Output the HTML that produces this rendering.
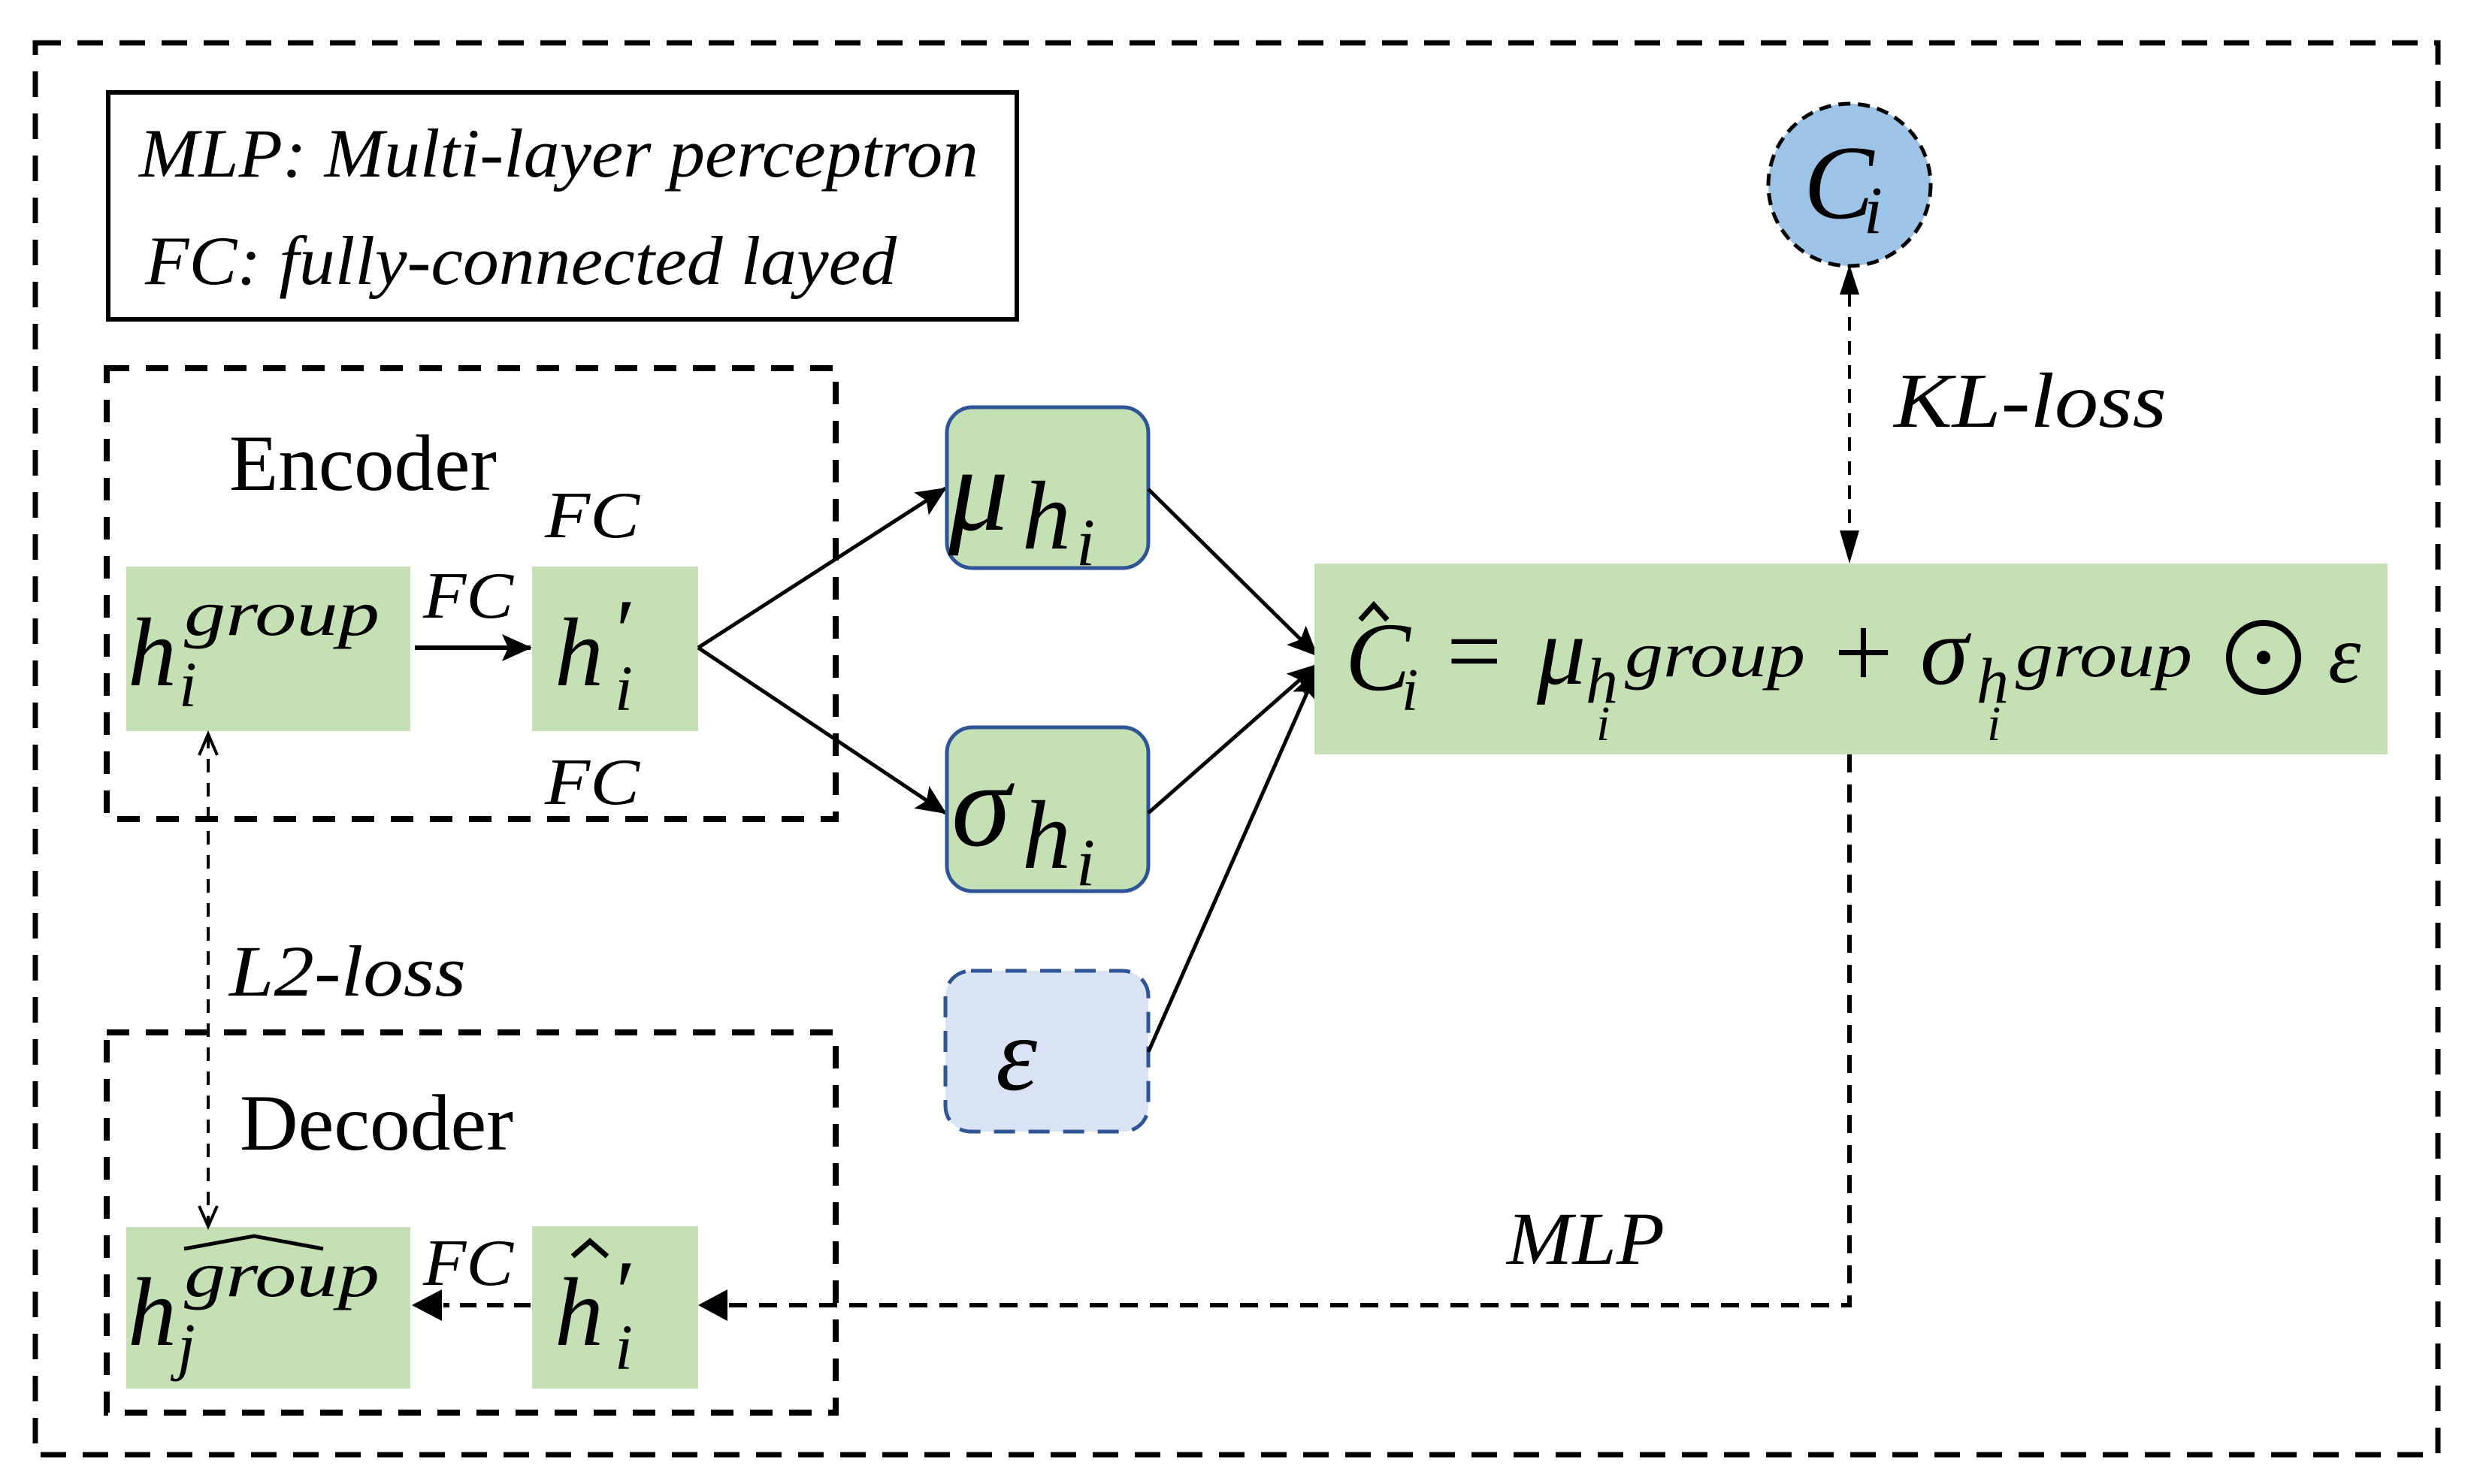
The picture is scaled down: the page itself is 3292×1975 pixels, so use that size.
<!DOCTYPE html>
<html><head><meta charset="utf-8"><style>
html,body{margin:0;padding:0;background:#fff;}
svg{display:block;}
text{font-family:"Liberation Serif",serif;fill:#000;}
.it{font-style:italic;}
</style></head><body>
<svg width="3292" height="1975" viewBox="0 0 3292 1975" xmlns="http://www.w3.org/2000/svg">
<defs>
<marker id="A" markerWidth="40" markerHeight="36" refX="38" refY="18" orient="auto" markerUnits="userSpaceOnUse"><path d="M0,0 L40,18 L0,36 L8,18 z" fill="#000"/></marker>
</defs>
<rect x="47" y="57" width="3197" height="1879" fill="none" stroke="#000" stroke-width="7" stroke-dasharray="34,22"/>
<rect x="144" y="123" width="1209" height="302" fill="none" stroke="#000" stroke-width="6"/>
<text x="185" y="235" class="it" font-size="92" textLength="1117" lengthAdjust="spacingAndGlyphs">MLP: Multi-layer perceptron</text>
<text x="193" y="378" class="it" font-size="92" textLength="1000" lengthAdjust="spacingAndGlyphs">FC: fully-connected layed</text>
<rect x="142" y="490" width="970" height="600" fill="none" stroke="#000" stroke-width="8" stroke-dasharray="30,22"/>
<text x="305" y="652" font-size="106" textLength="356" lengthAdjust="spacingAndGlyphs">Encoder</text>
<rect x="168" y="754" width="378" height="219" fill="#c5e0b4"/>
<text x="170" y="912" class="it" font-size="130">h</text>
<text x="245" y="845" class="it" font-size="86" textLength="260" lengthAdjust="spacingAndGlyphs">group</text>
<text x="238" y="940" class="it" font-size="86">i</text>
<rect x="708" y="754" width="221" height="219" fill="#c5e0b4"/>
<text x="738" y="912" class="it" font-size="130">h</text>
<text x="812" y="880" class="it" font-size="120">′</text>
<text x="818" y="945" class="it" font-size="86">i</text>
<line x1="552" y1="862" x2="706" y2="862" stroke="#000" stroke-width="6" marker-end="url(#A)"/>
<text x="563" y="822" class="it" font-size="88" textLength="120" lengthAdjust="spacingAndGlyphs">FC</text>
<text x="725" y="715" class="it" font-size="88" textLength="126" lengthAdjust="spacingAndGlyphs">FC</text>
<text x="725" y="1070" class="it" font-size="88" textLength="126" lengthAdjust="spacingAndGlyphs">FC</text>
<line x1="929" y1="862" x2="1258" y2="650" stroke="#000" stroke-width="5" marker-end="url(#A)"/>
<line x1="929" y1="862" x2="1258" y2="1082" stroke="#000" stroke-width="5" marker-end="url(#A)"/>
<rect x="1260" y="542" width="268" height="214" rx="34" fill="#c5e0b4" stroke="#2f5597" stroke-width="5"/>
<text x="1262" y="705" class="it" font-size="160">μ</text>
<text x="1360" y="730" class="it" font-size="130">h</text>
<text x="1432" y="752" class="it" font-size="90">i</text>
<rect x="1260" y="968" width="268" height="218" rx="34" fill="#c5e0b4" stroke="#2f5597" stroke-width="5"/>
<text x="1266" y="1125" class="it" font-size="160">σ</text>
<text x="1360" y="1155" class="it" font-size="130">h</text>
<text x="1432" y="1178" class="it" font-size="90">i</text>
<rect x="1258" y="1292" width="270" height="214" rx="34" fill="#dae3f3" stroke="#2f5597" stroke-width="5" stroke-dasharray="28,18"/>
<text x="1325" y="1450" class="it" font-size="140">ε</text>
<line x1="1528" y1="651" x2="1752" y2="872" stroke="#000" stroke-width="5" marker-end="url(#A)"/>
<line x1="1528" y1="1082" x2="1752" y2="885" stroke="#000" stroke-width="5" marker-end="url(#A)"/>
<line x1="1528" y1="1400" x2="1752" y2="893" stroke="#000" stroke-width="5" marker-end="url(#A)"/>
<rect x="1749" y="750" width="1428" height="254" fill="#c5e0b4"/>
<text x="1790" y="918" class="it" font-size="130">C</text>
<path d="M1810,825 L1828,805 L1846,825" fill="none" stroke="#000" stroke-width="7"/>
<text x="1865" y="945" class="it" font-size="80">i</text>
<text x="1925" y="910" font-size="130">=</text>
<text x="2045" y="910" class="it" font-size="130">μ</text>
<text x="2110" y="935" class="it" font-size="86">h</text>
<text x="2162" y="900" class="it" font-size="86" textLength="240" lengthAdjust="spacingAndGlyphs">group</text>
<text x="2124" y="985" class="it" font-size="66">i</text>
<text x="2440" y="915" font-size="140">+</text>
<text x="2555" y="910" class="it" font-size="130">σ</text>
<text x="2630" y="935" class="it" font-size="86">h</text>
<text x="2682" y="900" class="it" font-size="86" textLength="235" lengthAdjust="spacingAndGlyphs">group</text>
<text x="2644" y="985" class="it" font-size="66">i</text>
<circle cx="3012" cy="875" r="46" fill="none" stroke="#000" stroke-width="8"/>
<circle cx="3012" cy="875" r="9" fill="#000"/>
<text x="3098" y="908" class="it" font-size="110">ε</text>
<circle cx="2461" cy="246" r="108" fill="#9dc3e6" stroke="#000" stroke-width="5" stroke-dasharray="16,10"/>
<text x="2400" y="290" class="it" font-size="140">C</text>
<text x="2480" y="310" class="it" font-size="90">i</text>
<line x1="2461" y1="390" x2="2461" y2="706" stroke="#000" stroke-width="4" stroke-dasharray="18,14"/>
<path d="M2461,352 L2448,392 L2474,392 z" fill="#000"/>
<path d="M2461,750 L2448,706 L2474,706 z" fill="#000"/>
<text x="2520" y="568" class="it" font-size="104" textLength="363" lengthAdjust="spacingAndGlyphs">KL-loss</text>
<path d="M2461,1004 L2461,1737 L970,1737" fill="none" stroke="#000" stroke-width="6" stroke-dasharray="24,16"/>
<path d="M929,1737 L968,1716 L968,1758 z" fill="#000"/>
<text x="2005" y="1682" class="it" font-size="100" textLength="210" lengthAdjust="spacingAndGlyphs">MLP</text>
<rect x="142" y="1374" width="970" height="506" fill="none" stroke="#000" stroke-width="8" stroke-dasharray="30,22"/>
<text x="319" y="1530" font-size="106" textLength="364" lengthAdjust="spacingAndGlyphs">Decoder</text>
<rect x="168" y="1633" width="378" height="215" fill="#c5e0b4"/>
<text x="170" y="1790" class="it" font-size="130">h</text>
<text x="245" y="1725" class="it" font-size="86" textLength="260" lengthAdjust="spacingAndGlyphs">group</text>
<path d="M245,1662 L338,1645 L430,1662" fill="none" stroke="#000" stroke-width="5"/>
<text x="236" y="1820" class="it" font-size="86">j</text>
<rect x="708" y="1632" width="221" height="216" fill="#c5e0b4"/>
<text x="738" y="1790" class="it" font-size="130">h</text>
<path d="M762,1672 L785,1652 L808,1672" fill="none" stroke="#000" stroke-width="7"/>
<text x="812" y="1760" class="it" font-size="120">′</text>
<text x="818" y="1822" class="it" font-size="86">i</text>
<line x1="706" y1="1737" x2="590" y2="1737" stroke="#000" stroke-width="6" stroke-dasharray="22,14"/>
<path d="M548,1737 L588,1716 L588,1758 z" fill="#000"/>
<text x="563" y="1710" class="it" font-size="88" textLength="120" lengthAdjust="spacingAndGlyphs">FC</text>
<line x1="277" y1="978" x2="277" y2="1628" stroke="#000" stroke-width="4" stroke-dasharray="18,14"/>
<path d="M265,1005 L277,977 L289,1005" fill="none" stroke="#000" stroke-width="4"/>
<path d="M265,1605 L277,1632 L289,1605" fill="none" stroke="#000" stroke-width="4"/>
<text x="305" y="1325" class="it" font-size="96" textLength="315" lengthAdjust="spacingAndGlyphs">L2-loss</text>
</svg>
</body></html>
